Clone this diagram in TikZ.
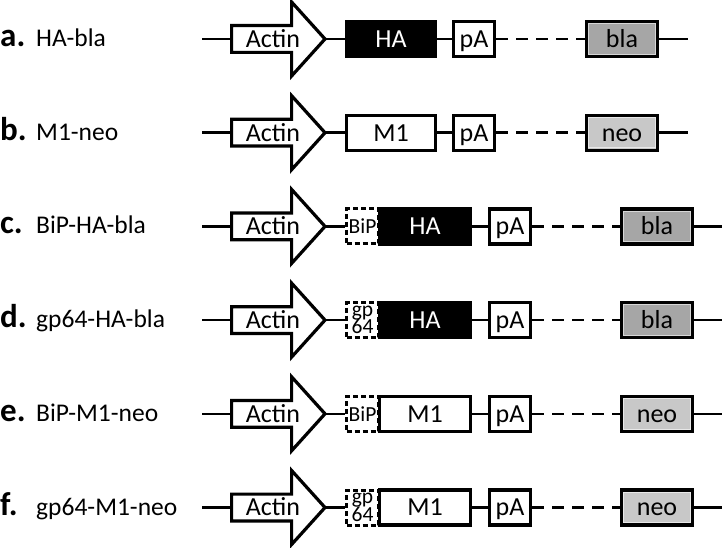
\documentclass[tikz,border=0pt]{standalone}
\usepackage{fontspec}
\setmainfont{Carlito}
\definecolor{blagray}{RGB}{166,166,166}
\definecolor{blarim}{RGB}{215,215,215}
\definecolor{neogray}{RGB}{200,200,200}
\definecolor{neorim}{RGB}{232,232,232}
\tikzset{
  conn/.style={line width=2.5pt},
  dconn/.style={line width=2.5pt, dash pattern=on 12pt off 8pt},
  box/.style={draw, line width=3.2pt, inner sep=0pt, minimum height=35pt,
    text height=16.7pt, text depth=0pt, font=\fontsize{26}{26}\selectfont},
  rim/.style={line width=1pt},
  actin/.style={draw, line width=3.2pt, fill=white, line join=miter},
  intext/.style={inner sep=0pt, text height=16.7pt, text depth=0pt, font=\fontsize{26}{26}\selectfont},
  sigbox/.style={draw, line width=3pt, dash pattern=on 5pt off 3pt, inner sep=0pt,
    minimum width=32pt, minimum height=35pt, align=center, fill=white,
    font=\fontsize{21.5}{17.5}\selectfont\setlength{\lineskiplimit}{-20pt}},
  lab/.style={inner sep=0pt, anchor=base west, font=\fontsize{25.5}{26}\selectfont},
}
\begin{document}
\begin{tikzpicture}[x=1pt,y=-1pt]
\useasboundingbox (0,0) rectangle (722,548);
% common parts of every row
\foreach \r/\Y/\lbl in {a/39/HA-bla, b/132.7/M1-neo, c/226.4/BiP-HA-bla, d/320.1/gp64-HA-bla, e/413.8/BiP-M1-neo, f/507.5/gp64-M1-neo} {
  \node[lab] (lab\r) at (0,\Y+7.5) {\makebox[36pt][l]{\fontsize{33}{33}\selectfont\bfseries \r.}\lbl};
  \coordinate (start\r) at (202,\Y);
  \coordinate (tail\r) at (231.6,\Y);
  \coordinate (tip\r) at (325,\Y);
  \draw[actin] (231.6,\Y-13.4) -- (291.6,\Y-13.4) -- (291.6,\Y-37) -- (325,\Y)
     -- (291.6,\Y+37) -- (291.6,\Y+13.4) -- (231.6,\Y+13.4) -- cycle;
  \node[intext] (act\r) at (273,\Y) {Actin};
  \draw[conn] (start\r) -- (tail\r);
}
% rows a, b
\foreach \r/\Y/\gname/\gfil/\gtxt/\mname/\mfil/\mrim in {a/39/HA/black/white/bla/blagray/blarim, b/132.7/M1/white/black/neo/neogray/neorim} {
  \node[box, minimum width=88.8pt, fill=\gfil, text=\gtxt] (gene\r) at (391,\Y) {\gname};
  \node[box, minimum width=40.8pt, fill=white] (pa\r) at (474,\Y) {pA};
  \node[box, minimum width=70.8pt, fill=\mfil] (mk\r) at (622,\Y) {\mname};
  \draw[rim, draw=\mrim] (mk\r.center) ++(-33.2,-15.3) rectangle ++(66.4,30.6);
  \coordinate (end\r) at (688,\Y);
  \draw[conn] (tip\r) -- (gene\r);
  \draw[conn] (gene\r) -- (pa\r);
  \draw[dconn] (pa\r) -- (mk\r);
  \draw[conn] (mk\r) -- (end\r);
}
% rows c - f
\foreach \r/\Y/\sig/\gname/\gfil/\gtxt/\mname/\mfil/\mrim in {c/226.4/BiP/HA/black/white/bla/blagray/blarim, d/320.1/{gp\\64}/HA/black/white/bla/blagray/blarim, e/413.8/BiP/M1/white/black/neo/neogray/neorim, f/507.5/{gp\\64}/M1/white/black/neo/neogray/neorim} {
  \node[sigbox] (sig\r) at (362.5,\Y) {\sig};
  \node[box, minimum width=90.8pt, fill=\gfil, text=\gtxt] (gene\r) at (425,\Y) {\gname};
  \node[box, minimum width=40.8pt, fill=white] (pa\r) at (510,\Y) {pA};
  \node[box, minimum width=70.8pt, fill=\mfil] (mk\r) at (657,\Y) {\mname};
  \draw[rim, draw=\mrim] (mk\r.center) ++(-33.2,-15.3) rectangle ++(66.4,30.6);
  \coordinate (end\r) at (722,\Y);
  \draw[conn] (tip\r) -- (sig\r);
  \draw[conn] (gene\r) -- (pa\r);
  \draw[dconn] (pa\r) -- (mk\r);
  \draw[conn] (mk\r) -- (end\r);
}
\end{tikzpicture}
\end{document}
